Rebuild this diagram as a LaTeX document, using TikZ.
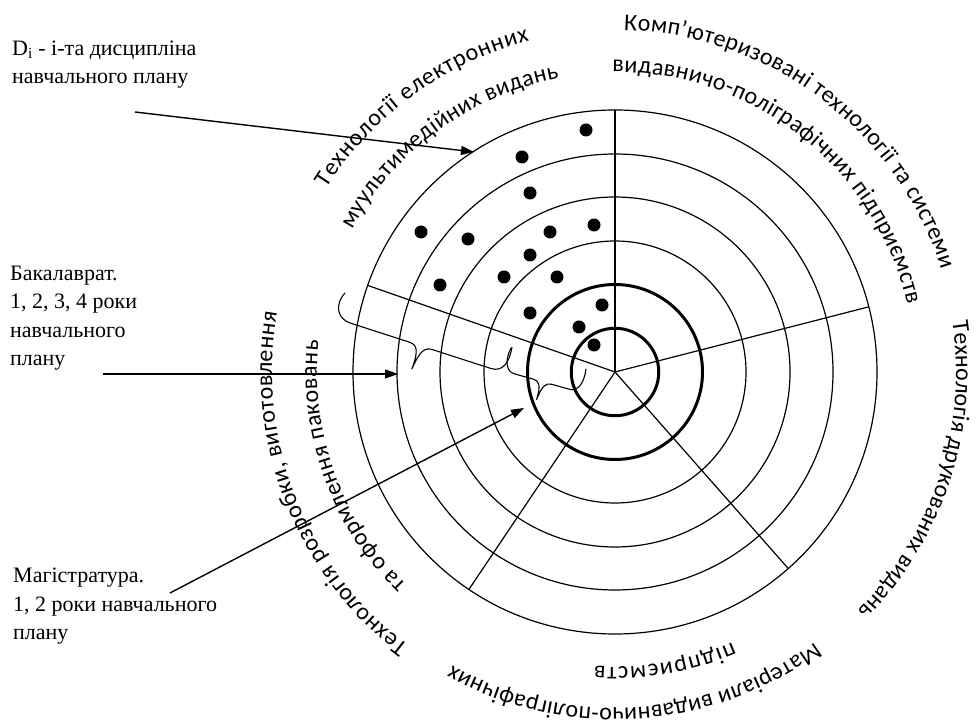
\documentclass[tikz,border=0pt]{standalone}
\usepackage{fontspec}
\setmainfont{Liberation Serif}
\newfontfamily\ringfam{Carlito}
\usetikzlibrary{arrows.meta,decorations.text,calc}
\newcommand\ringlbl{\ringfam\fontsize{24}{28}\selectfont}
\begin{document}
\begin{tikzpicture}[x=1pt,y=1pt,
    ring/.style={line width=1.2pt},
    thickring/.style={line width=3pt},
    note/.style={align=left,inner sep=0pt,font=\fontsize{22}{28.5}\selectfont},
    pointer/.style={line width=1.4pt,-{Triangle[length=13pt,width=9pt]}},
    brc/.style={line width=1.1pt},
    ringtext/.style={decorate,decoration={text along path,text={|\ringlbl|#1},text align={fit to path}}}]
      \useasboundingbox (0,0) rectangle (976,725);
      \coordinate (C) at (615,353);
      \foreach \r in {131,175,218,262} \draw[ring] (C) circle[radius=\r];
      \foreach \r in {43.75,87.5} \draw[thickring] (C) circle[radius=\r];
      \foreach \a in {90,14.4,-48.6,-123.9,160.7} \draw[ring] (C) -- ++(\a:262);
      \foreach \x/\y in {586/595,522/568,530/532,421/493,468/486,550/493,594/500,530/470,
          440/440,504/448,557/448,530/412,602/420,579/398,594/380}
        \fill (\x,\y) circle[radius=6.5];
      \path[ringtext={Технології  електронних}] ($(C)+(147.5:342)$) arc[start angle=147.5,end angle=104.5,radius=342];
      \path[ringtext={муультимедійних видань}] ($(C)+(151.5:299)$) arc[start angle=151.5,end angle=100.8,radius=299];
      \path[ringtext={Комп’ютеризовані технології  та системи}] ($(C)+(88.5:342)$) arc[start angle=88.5,end angle=17.5,radius=342];
      \path[ringtext={видавничо-поліграфічних підприємств}] ($(C)+(90.5:300)$) arc[start angle=90.5,end angle=13,radius=300];
      \path[ringtext={Технологія друкованих видань}] ($(C)+(8.5:341)$) arc[start angle=8.5,end angle=-44.5,radius=341];
      \path[ringtext={Матеріали видавничо-поліграфічних}] ($(C)+(-53.5:336)$) arc[start angle=-53.5,end angle=-119,radius=336];
      \path[ringtext={підприємств}] ($(C)+(-66.5:295)$) arc[start angle=-66.5,end angle=-94,radius=295];
      \path[ringtext={Технологія розробки, виготовлення}] ($(C)+(233:343)$) arc[start angle=233,end angle=170,radius=343];
      \path[ringtext={та оформлення паковань}] ($(C)+(225.5:298)$) arc[start angle=225.5,end angle=174,radius=298];
      \node[note,anchor=base west] (di) at (12,641) {D\textsubscript{i} - і-та дисципліна\\навчального плану};
      \node[note,anchor=base west] (bak) at (10,359) {Бакалаврат.\\1, 2, 3, 4 роки\\навчального\\плану};
      \node[note,anchor=base west] (mag) at (13,85) {Магістратура.\\1, 2 роки навчального\\плану};
      \coordinate (di-from) at (135,613);
      \coordinate (di-to) at (474,573);
      \coordinate (bak-from) at (103,351);
      \coordinate (bak-to) at (398,351);
      \coordinate (mag-from) at (170,132);
      \coordinate (mag-to) at (524,317);
      \draw[pointer] (di-from) -- (di-to);
      \draw[pointer] (bak-from) -- (bak-to);
      \draw[pointer] (mag-from) -- (mag-to);
      \begin{scope}[shift={(345,432)},rotate=-17.9]
        \draw[brc] (0,0) .. controls (-7,-16) and (2,-27) .. (14,-27) -- (76,-27)
          .. controls (84,-27) and (88,-31) .. (87,-52) .. controls (89,-31) and (93,-27) .. (101,-27)
          -- (162,-27) .. controls (174,-27) and (178,-16) .. (175.5,0);
      \end{scope}
      \begin{scope}[shift={(511,377)},rotate=-15.6]
        \draw[brc] (0,0) .. controls (-3,-14) and (2,-24) .. (10,-24) -- (30,-24)
          .. controls (36,-24) and (39,-28) .. (38.5,-43) .. controls (40,-28) and (43,-24) .. (49,-24)
          -- (68,-24) .. controls (76,-24) and (80,-14) .. (77.9,0);
      \end{scope}
    \end{tikzpicture}
\end{document}
